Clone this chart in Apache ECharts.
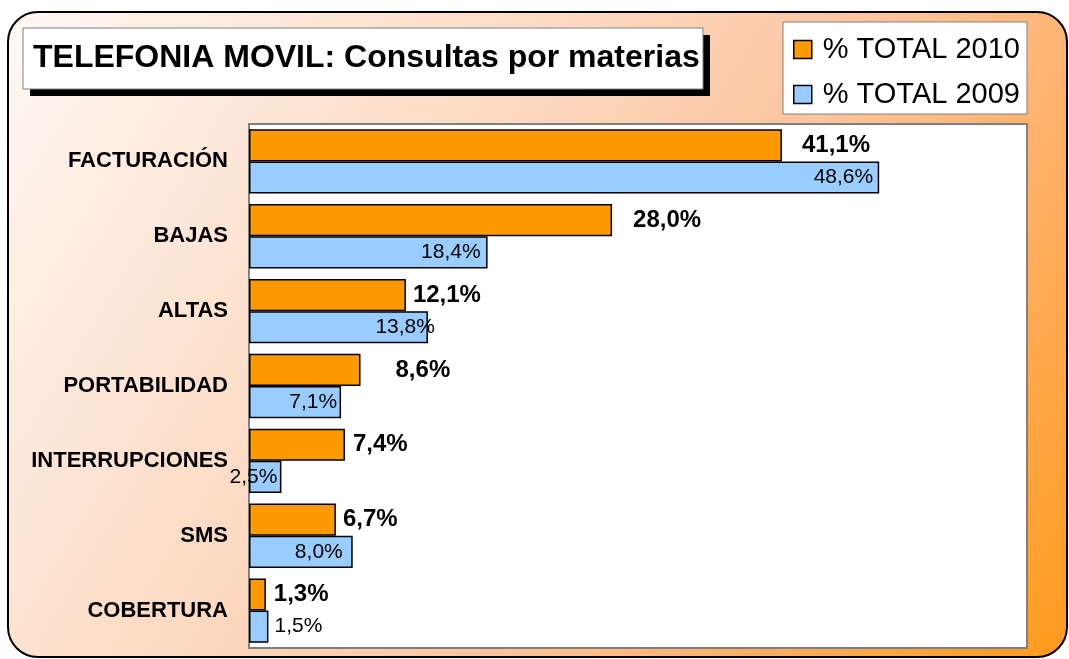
<!DOCTYPE html>
<html>
<head>
<meta charset="utf-8">
<title>TELEFONIA MOVIL: Consultas por materias</title>
<script src="https://cdn.jsdelivr.net/npm/echarts@6/dist/echarts.min.js"></script>
<style>
    html, body {margin: 0; padding: 0; background: #fff;}
    #chart {width: 1069px; height: 659px;}
</style>
</head>
<body>
<div id="chart"></div>
<script>
// data
var categories = ['FACTURACIÓN', 'BAJAS', 'ALTAS', 'PORTABILIDAD', 'INTERRUPCIONES', 'SMS', 'COBERTURA'];
var total2010 = [41.1, 28.0, 12.1, 8.6, 7.4, 6.7, 1.3];
var total2009 = [48.6, 18.4, 13.8, 7.1, 2.5, 8.0, 1.5];
var seriesNames = ['% TOTAL 2010', '% TOTAL 2009'];
var titleText = 'TELEFONIA MOVIL: Consultas por materias';

var FONT = '"Liberation Sans", Arial, sans-serif';

// label placement, hand tuned like the excel original
var gap2010 = [20, 21, 7, 35, 8, 7, 8];
var label2009 = [
    {position: 'insideRight', distance: 6},
    {position: 'insideRight', distance: 7},
    {position: 'insideRight', distance: -7},
    {position: 'insideRight', distance: 4},
    {position: 'insideRight', distance: 4},
    {position: 'insideRight', distance: 10},
    {position: 'right', distance: 6}
];

function fmt(p) {
    return p.value.toFixed(1).replace('.', ',') + '%';
}

var chart = echarts.init(document.getElementById('chart'));

var option = {
    animation: false,
    textStyle: {fontFamily: FONT},
    graphic: [
        {
            type: 'rect',
            z: -10,
            shape: {x: 8, y: 12, width: 1059, height: 645, r: 30},
            style: {
                fill: new echarts.graphic.LinearGradient(0, 0, 1, 1, [
                    {offset: 0, color: '#fff8f4'},
                    {offset: 0.45, color: '#fcd4b8'},
                    {offset: 0.6, color: '#fcc49e'},
                    {offset: 0.78, color: '#ffb066'},
                    {offset: 1, color: '#ff9a1a'}
                ]),
                stroke: '#000',
                lineWidth: 2
            }
        },
        {
            type: 'rect',
            z: 1,
            shape: {x: 30, y: 35, width: 680, height: 61},
            style: {fill: '#000'}
        },
        {
            type: 'rect',
            z: 1,
            shape: {x: 23, y: 28, width: 680, height: 61},
            style: {fill: '#fff', stroke: '#808080', lineWidth: 1}
        },
        {
            type: 'rect',
            z: 1,
            shape: {x: 783, y: 22, width: 244, height: 92},
            style: {fill: '#fff', stroke: '#808080', lineWidth: 1}
        }
    ],
    title: {
        text: titleText,
        left: 33,
        top: 43,
        padding: 0,
        textStyle: {fontFamily: FONT, fontSize: 32, fontWeight: 'bold', color: '#000', lineHeight: 31}
    },
    legend: {
        data: seriesNames,
        orient: 'vertical',
        left: 793,
        top: 35,
        padding: 0,
        itemWidth: 18,
        itemHeight: 18,
        itemGap: 16,
        icon: 'rect',
        itemStyle: {borderColor: '#000', borderWidth: 1.5},
        textStyle: {fontFamily: FONT, fontSize: 29, lineHeight: 28, color: '#000', padding: [0, 0, 0, 6]}
    },
    grid: {
        left: 249,
        top: 124,
        right: 42,
        bottom: 11,
        show: true,
        backgroundColor: '#fff',
        borderColor: '#808080',
        borderWidth: 2
    },
    xAxis: {
        type: 'value',
        min: 0,
        max: 60,
        show: false
    },
    yAxis: {
        type: 'category',
        data: categories,
        inverse: true,
        axisLine: {lineStyle: {color: '#808080', width: 2}},
        axisTick: {length: 9, lineStyle: {color: '#808080', width: 2}},
        axisLabel: {
            margin: 21,
            fontFamily: FONT,
            fontSize: 22,
            fontWeight: 'bold',
            color: '#000',
            padding: [0, 0, 6, 0]
        }
    },
    series: [
        {
            name: seriesNames[0],
            type: 'bar',
            barGap: '0%',
            barCategoryGap: '14%',
            itemStyle: {color: '#ff9900', borderColor: '#000', borderWidth: 1.5},
            data: total2010.map(function (v, i) {
                return {value: v, label: {distance: gap2010[i]}};
            }),
            label: {
                show: true,
                position: 'right',
                formatter: fmt,
                fontFamily: FONT,
                fontSize: 24,
                fontWeight: 'bold',
                color: '#000'
            }
        },
        {
            name: seriesNames[1],
            type: 'bar',
            barGap: '0%',
            barCategoryGap: '14%',
            itemStyle: {color: '#99ccff', borderColor: '#000', borderWidth: 1.5},
            data: total2009.map(function (v, i) {
                return {value: v, label: label2009[i]};
            }),
            label: {
                show: true,
                formatter: fmt,
                fontFamily: FONT,
                fontSize: 21,
                color: '#000'
            }
        }
    ]
};

chart.setOption(option);
</script>
</body>
</html>
